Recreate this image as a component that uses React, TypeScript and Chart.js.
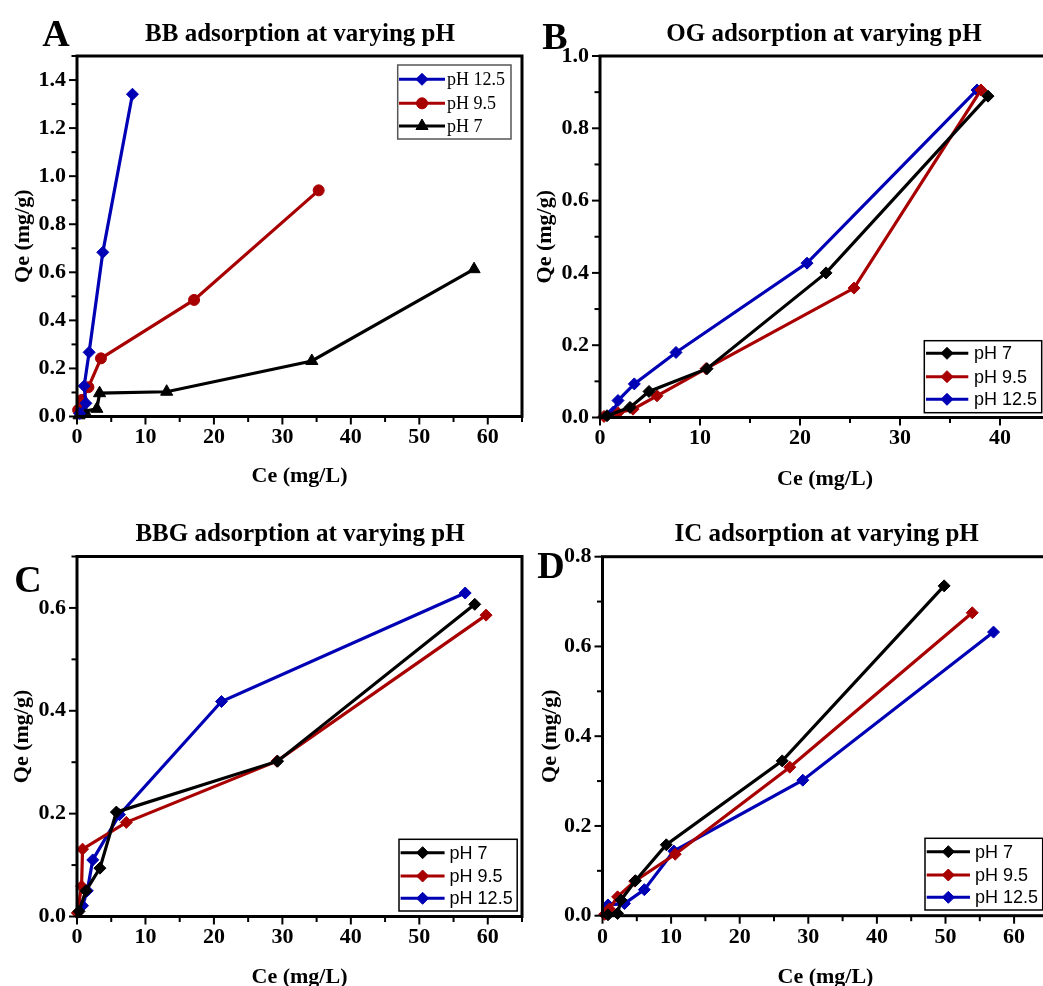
import React, { useEffect, useRef } from 'react';
import { Chart, registerables } from 'chart.js';

Chart.register(...registerables);

// ---------------- Data ----------------
// Panel A: BB
const BB_PH125_CE = [0.4, 1.3, 1.05, 1.77, 3.77, 8.1];
const BB_PH125_QE = [0.013, 0.055, 0.127, 0.267, 0.683, 1.341];
const BB_PH95_CE = [0.17, 0.71, 1.67, 3.5, 17.1, 35.3];
const BB_PH95_QE = [0.027, 0.069, 0.122, 0.242, 0.485, 0.941];
const BB_PH7_CE = [0.3, 1.1, 2.9, 3.3, 13.1, 34.3, 58.0];
const BB_PH7_QE = [0.005, 0.022, 0.032, 0.097, 0.103, 0.231, 0.613];
// Panel B: OG
const OG_PH7_CE = [0.7, 3.0, 4.9, 10.7, 22.6, 38.8];
const OG_PH7_QE = [0.005, 0.028, 0.072, 0.135, 0.4, 0.889];
const OG_PH95_CE = [0.4, 1.8, 3.3, 5.7, 10.6, 25.4, 38.1];
const OG_PH95_QE = [0.003, 0.013, 0.023, 0.06, 0.135, 0.358, 0.906];
const OG_PH125_CE = [1.33, 1.8, 3.43, 7.6, 20.7, 37.7];
const OG_PH125_QE = [0.015, 0.047, 0.093, 0.18, 0.427, 0.906];
// Panel C: BBG
const BBG_PH7_CE = [0.3, 1.3, 3.35, 5.75, 29.3, 58.1];
const BBG_PH7_QE = [0.01, 0.05, 0.094, 0.203, 0.302, 0.607];
const BBG_PH95_CE = [0.05, 0.67, 0.81, 7.2, 29.2, 59.75];
const BBG_PH95_QE = [0.007, 0.059, 0.131, 0.183, 0.302, 0.586];
const BBG_PH125_CE = [0.8, 1.5, 2.3, 6.2, 21.1, 56.7];
const BBG_PH125_QE = [0.021, 0.05, 0.11, 0.198, 0.418, 0.629];
// Panel D: IC
const IC_PH7_CE = [0.8, 2.2, 2.7, 4.8, 9.3, 26.2, 49.8];
const IC_PH7_QE = [0.002, 0.005, 0.035, 0.078, 0.158, 0.345, 0.735];
const IC_PH95_CE = [0.3, 1.0, 2.2, 4.7, 10.6, 27.3, 53.9];
const IC_PH95_QE = [0.003, 0.015, 0.042, 0.077, 0.137, 0.331, 0.675];
const IC_PH125_CE = [0.8, 3.2, 6.1, 10.4, 29.2, 57.0];
const IC_PH125_QE = [0.024, 0.027, 0.058, 0.144, 0.302, 0.632];

const PANEL_LETTERS = ['A', 'B', 'C', 'D'];
const PANEL_TITLES = [
  'BB adsorption at varying pH',
  'OG adsorption at varying pH',
  'BBG adsorption at varying pH',
  'IC adsorption at varying pH',
];
const X_AXIS_TITLE = 'Ce (mg/L)';
const Y_AXIS_TITLE = 'Qe (mg/g)';
const LABEL_PH7 = 'pH 7';
const LABEL_PH95 = 'pH 9.5';
const LABEL_PH125 = 'pH 12.5';
const X_MAX = [65, 45, 65, 65];
const Y_MAX = [1.5, 1.0, 0.7, 0.8];

// ---------------- Styles ----------------
const BLUE = '#0000b4';
const RED = '#a80000';
const BLACK = '#000000';
const SERIF = "'Liberation Serif', 'Times New Roman', serif";
const SANS = "'Liberation Sans', Arial, sans-serif";
const TICK_SIZE = 22;
const AXIS_TITLE_SIZE = 22;
const LH = AXIS_TITLE_SIZE * 1.2;

type Series = { label: string; ce: number[]; qe: number[]; color: string; marker: string; radius: number };

const zip = (xs: number[], ys: number[]) => xs.map((x, i) => ({ x, y: ys[i] }));

const PANELS = [
  {
    canvas: { left: 0, top: 0, w: 530, h: 500 },
    plot: { l: 77, t: 56, r: 524.5, b: 416.5 },
    yTitleX: 23.7,
    xTitleY: 476.7,
    series: [
      { label: LABEL_PH125, ce: BB_PH125_CE, qe: BB_PH125_QE, color: BLUE, marker: 'rectRot', radius: 6 },
      { label: LABEL_PH95, ce: BB_PH95_CE, qe: BB_PH95_QE, color: RED, marker: 'circle', radius: 5.5 },
      { label: LABEL_PH7, ce: BB_PH7_CE, qe: BB_PH7_QE, color: BLACK, marker: 'triangle', radius: 7 },
    ] as Series[],
    legend: {
      box: [397.7, 65, 511, 139], rows: [79.3, 103.3, 126], lineX: [399, 445], markerX: 422, textX: 447,
      font: `18px ${SERIF}`, border: '#555',
    },
  },
  {
    canvas: { left: 530, top: 0, w: 540, h: 500 },
    plot: { l: 600, t: 56, r: 1050, b: 417.5 },
    yTitleX: 545,
    xTitleY: 479,
    series: [
      { label: LABEL_PH7, ce: OG_PH7_CE, qe: OG_PH7_QE, color: BLACK, marker: 'rectRot', radius: 6 },
      { label: LABEL_PH95, ce: OG_PH95_CE, qe: OG_PH95_QE, color: RED, marker: 'rectRot', radius: 6 },
      { label: LABEL_PH125, ce: OG_PH125_CE, qe: OG_PH125_QE, color: BLUE, marker: 'rectRot', radius: 6 },
    ] as Series[],
    legend: {
      box: [924.3, 340.7, 1041.7, 412.7], rows: [353.3, 376.7, 399.3], lineX: [926, 968.3], markerX: 947, textX: 974,
      font: `18px ${SANS}`, border: '#000',
    },
  },
  {
    canvas: { left: 0, top: 490, w: 530, h: 510 },
    plot: { l: 77, t: 556.5, r: 524.5, b: 916.5 },
    yTitleX: 22,
    xTitleY: 977,
    series: [
      { label: LABEL_PH7, ce: BBG_PH7_CE, qe: BBG_PH7_QE, color: BLACK, marker: 'rectRot', radius: 6 },
      { label: LABEL_PH95, ce: BBG_PH95_CE, qe: BBG_PH95_QE, color: RED, marker: 'rectRot', radius: 6 },
      { label: LABEL_PH125, ce: BBG_PH125_CE, qe: BBG_PH125_QE, color: BLUE, marker: 'rectRot', radius: 6 },
    ] as Series[],
    legend: {
      box: [399, 839.3, 517.2, 911], rows: [852.7, 876, 898.3], lineX: [400.6, 444.6], markerX: 422.6, textX: 449.6,
      font: `18px ${SANS}`, border: '#000',
    },
  },
  {
    canvas: { left: 530, top: 490, w: 540, h: 510 },
    plot: { l: 602.5, t: 556.7, r: 1048.4, b: 915.7 },
    yTitleX: 550,
    xTitleY: 977,
    series: [
      { label: LABEL_PH7, ce: IC_PH7_CE, qe: IC_PH7_QE, color: BLACK, marker: 'rectRot', radius: 6 },
      { label: LABEL_PH95, ce: IC_PH95_CE, qe: IC_PH95_QE, color: RED, marker: 'rectRot', radius: 6 },
      { label: LABEL_PH125, ce: IC_PH125_CE, qe: IC_PH125_QE, color: BLUE, marker: 'rectRot', radius: 6 },
    ] as Series[],
    legend: {
      box: [925, 838.3, 1042.7, 910], rows: [851.7, 875, 897.3], lineX: [926.7, 970], markerX: 948.3, textX: 975,
      font: `18px ${SANS}`, border: '#000',
    },
  },
];

const TEXTS = [
  { text: PANEL_LETTERS[0], x: 56, y: 33.3, size: 38 },
  { text: PANEL_LETTERS[1], x: 555, y: 36, size: 38 },
  { text: PANEL_LETTERS[2], x: 27.9, y: 579.2, size: 38 },
  { text: PANEL_LETTERS[3], x: 551, y: 565, size: 38 },
  { text: PANEL_TITLES[0], x: 300, y: 32, size: 25 },
  { text: PANEL_TITLES[1], x: 824, y: 31.7, size: 25 },
  { text: PANEL_TITLES[2], x: 300, y: 532, size: 25 },
  { text: PANEL_TITLES[3], x: 826.7, y: 532, size: 25 },
];

function drawMarker(ctx: CanvasRenderingContext2D, marker: string, x: number, y: number, r: number, color: string) {
  ctx.save();
  ctx.fillStyle = color;
  ctx.strokeStyle = color;
  ctx.lineWidth = 1;
  ctx.beginPath();
  if (marker === 'circle') {
    ctx.arc(x, y, r, 0, Math.PI * 2);
  } else if (marker === 'triangle') {
    ctx.moveTo(x, y - r);
    ctx.lineTo(x + r * 0.866, y + r * 0.5);
    ctx.lineTo(x - r * 0.866, y + r * 0.5);
    ctx.closePath();
  } else {
    ctx.moveTo(x, y - r);
    ctx.lineTo(x + r, y);
    ctx.lineTo(x, y + r);
    ctx.lineTo(x - r, y);
    ctx.closePath();
  }
  ctx.fill();
  ctx.stroke();
  ctx.restore();
}

const frameTicksPlugin = {
  id: 'frameTicks',
  afterDraw(chart: any) {
    const { ctx, chartArea: a, scales } = chart;
    ctx.save();
    ctx.strokeStyle = '#000';
    ctx.lineWidth = 2;
    const xs = scales.x;
    xs.ticks.forEach((t: any) => {
      const px = xs.getPixelForValue(t.value);
      const len = t.label !== '' ? 6.5 : 4;
      ctx.beginPath();
      ctx.moveTo(px, a.bottom);
      ctx.lineTo(px, a.bottom + 1.5 + len);
      ctx.stroke();
    });
    const ys = scales.y;
    ys.ticks.forEach((t: any) => {
      const py = ys.getPixelForValue(t.value);
      const len = t.label !== '' ? 6.5 : 4;
      ctx.beginPath();
      ctx.moveTo(a.left, py);
      ctx.lineTo(a.left - 1.5 - len, py);
      ctx.stroke();
    });
    ctx.lineWidth = 3;
    ctx.strokeRect(a.left, a.top, a.right - a.left, a.bottom - a.top);
    ctx.restore();
  },
};

function makeLegendPlugin(p: any) {
  return {
    id: 'boxLegend',
    afterDraw(chart: any) {
      const { ctx } = chart;
      const ox = p.canvas.left;
      const oy = p.canvas.top;
      const lg = p.legend;
      const [x1, y1, x2, y2] = lg.box;
      ctx.save();
      ctx.fillStyle = '#fff';
      ctx.fillRect(x1 - ox, y1 - oy, x2 - x1, y2 - y1);
      ctx.strokeStyle = lg.border;
      ctx.lineWidth = 1.5;
      ctx.strokeRect(x1 - ox, y1 - oy, x2 - x1, y2 - y1);
      p.series.forEach((s: Series, i: number) => {
        const y = lg.rows[i] - oy;
        ctx.strokeStyle = s.color;
        ctx.lineWidth = 3;
        ctx.beginPath();
        ctx.moveTo(lg.lineX[0] - ox, y);
        ctx.lineTo(lg.lineX[1] - ox, y);
        ctx.stroke();
        drawMarker(ctx, s.marker, lg.markerX - ox, y, s.radius, s.color);
        ctx.fillStyle = '#000';
        ctx.font = lg.font;
        ctx.textBaseline = 'middle';
        ctx.textAlign = 'left';
        ctx.fillText(s.label, lg.textX - ox, y + 1);
      });
      ctx.restore();
    },
  };
}

function buildConfig(p: any, idx: number): any {
  const c = p.canvas;
  const tickFont = { family: SERIF, size: TICK_SIZE, weight: 'bold' as const };
  const titleFont = { family: SERIF, size: AXIS_TITLE_SIZE, weight: 'bold' as const };
  return {
    type: 'scatter',
    data: {
      datasets: p.series.map((s: Series) => ({
        label: s.label,
        data: zip(s.ce, s.qe),
        showLine: true,
        borderColor: s.color,
        backgroundColor: s.color,
        borderWidth: 3.2,
        pointStyle: s.marker,
        pointRadius: s.radius,
        pointBackgroundColor: s.color,
        pointBorderColor: s.color,
        pointBorderWidth: 1,
        tension: 0,
        clip: false,
      })),
    },
    options: {
      responsive: false,
      animation: false,
      devicePixelRatio: 1,
      events: [],
      layout: {
        padding: { top: p.plot.t - c.top, right: c.left + c.w - p.plot.r, bottom: 0, left: 0 },
      },
      plugins: { legend: { display: false }, title: { display: false }, tooltip: { enabled: false } },
      scales: {
        x: {
          type: 'linear',
          position: 'bottom',
          min: 0,
          max: X_MAX[idx],
          afterFit: (s: any) => { s.height = c.top + c.h - p.plot.b; },
          grid: { display: false, drawTicks: false },
          border: { display: false },
          ticks: {
            stepSize: 5,
            autoSkip: false,
            maxRotation: 0,
            padding: 8,
            color: '#000',
            font: tickFont,
            callback: (v: any) => { const n = Math.round(Number(v)); return n % 10 === 0 ? String(n) : ''; },
          },
          title: {
            display: true,
            text: X_AXIS_TITLE,
            color: '#000',
            font: titleFont,
            padding: { top: 0, bottom: Math.max(0, c.top + c.h - p.xTitleY - LH / 2) },
          },
        },
        y: {
          type: 'linear',
          position: 'left',
          min: 0,
          max: Y_MAX[idx],
          afterFit: (s: any) => { s.width = p.plot.l - c.left; },
          grid: { display: false, drawTicks: false },
          border: { display: false },
          ticks: {
            stepSize: 0.1,
            autoSkip: false,
            padding: 11,
            color: '#000',
            font: tickFont,
            callback: (v: any) => { const n = Math.round(Number(v) * 10); return n % 2 === 0 ? (n / 10).toFixed(1) : ''; },
          },
          title: {
            display: true,
            text: Y_AXIS_TITLE,
            color: '#000',
            font: titleFont,
            padding: { top: Math.max(0, p.yTitleX - c.left - LH / 2), bottom: 0 },
          },
        },
      },
    },
    plugins: [frameTicksPlugin, makeLegendPlugin(p)],
  };
}

function Panel({ p, idx }: { p: any; idx: number }) {
  const ref = useRef<HTMLCanvasElement>(null);
  useEffect(() => {
    const chart = new Chart(ref.current as HTMLCanvasElement, buildConfig(p, idx));
    return () => chart.destroy();
  }, []);
  const c = p.canvas;
  return (
    <canvas
      ref={ref}
      width={c.w}
      height={c.h}
      style={{ position: 'absolute', left: c.left, top: c.top, width: c.w, height: c.h }}
    />
  );
}

export default function App() {
  return (
    <div
      style={{
        position: 'fixed', left: 0, top: 0, width: 1043, height: 986,
        overflow: 'hidden', background: '#fff',
      }}
    >
      {PANELS.map((p, i) => <Panel key={i} p={p} idx={i} />)}
      {TEXTS.map((t, i) => (
        <div
          key={'t' + i}
          style={{
            position: 'absolute', left: t.x, top: t.y, transform: 'translate(-50%, -50%)',
            fontFamily: SERIF, fontWeight: 'bold', fontSize: t.size, lineHeight: 1,
            whiteSpace: 'nowrap', color: '#000',
          }}
        >
          {t.text}
        </div>
      ))}
    </div>
  );
}
